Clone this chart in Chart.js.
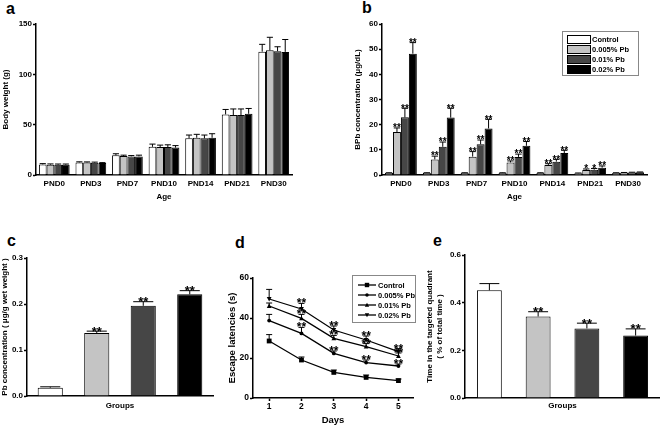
<!DOCTYPE html>
<html>
<head>
<meta charset="utf-8">
<script src="https://cdn.jsdelivr.net/npm/chart.js@4.4.1/dist/chart.umd.min.js"></script>
<style>
  body { margin: 0; background: #fff; width: 660px; height: 426px; position: relative; overflow: hidden; }
  .box { position: absolute; }
  .lab { position: absolute; font: bold 16px "Liberation Sans", Arial, sans-serif; line-height: 16px; color: #000; }
</style>
</head>
<body>
<div class="lab" style="left:6px;top:1px">a</div>
<div class="lab" style="left:362px;top:0px">b</div>
<div class="lab" style="left:7px;top:233px">c</div>
<div class="lab" style="left:235px;top:235px">d</div>
<div class="lab" style="left:433px;top:233px">e</div>

<div class="box" style="left:0px;top:0px;width:300px;height:205px"><canvas id="chartA"></canvas></div>
<div class="box" style="left:330px;top:0px;width:330px;height:205px"><canvas id="chartB"></canvas></div>
<div class="box" style="left:0px;top:215px;width:215px;height:200px"><canvas id="chartC"></canvas></div>
<div class="box" style="left:220px;top:215px;width:200px;height:216px"><canvas id="chartD"></canvas></div>
<div class="box" style="left:422px;top:215px;width:238px;height:200px"><canvas id="chartE"></canvas></div>

<script>
const ages = ['PND0', 'PND3', 'PND7', 'PND10', 'PND14', 'PND21', 'PND30'];
const groups = ['Control', '0.005% Pb', '0.01% Pb', '0.02% Pb'];
const fills = ['#ffffff', '#c4c4c4', '#464646', '#000000'];

// a - body weight (g)
const bwControl = [10.5, 12.5, 19.5, 28.0, 36.4, 60.2, 122.5];
const bwPb005   = [10.3, 12.4, 18.8, 27.8, 37.0, 59.6, 123.8];
const bwPb01    = [10.2, 12.2, 18.5, 27.8, 36.4, 59.6, 123.0];
const bwPb02    = [10.2, 11.8, 18.5, 27.2, 37.0, 60.8, 122.3];
const bwControlErr = [0.8, 0.6, 1.6, 2.7, 3.3, 4.9, 7.3];
const bwPb005Err   = [0.7, 0.6, 0.9, 1.9, 3.4, 6.0, 13.0];
const bwPb01Err    = [0.7, 0.6, 0.8, 2.2, 3.3, 6.0, 4.4];
const bwPb02Err    = [0.7, 0.5, 1.2, 2.0, 4.0, 5.3, 12.3];

// b - BPb concentration (ug/dL)
const bpbControl = [0.8, 0.8, 0.8, 0.8, 0.8, 0.7, 0.8];
const bpbPb005   = [17.1, 6.2, 7.3, 5.0, 4.0, 2.0, 0.9];
const bpbPb01    = [22.9, 11.2, 12.2, 7.2, 5.3, 2.1, 1.0];
const bpbPb02    = [48.2, 22.8, 18.5, 11.6, 8.7, 2.9, 1.1];
const bpbControlErr = [0.1, 0.1, 0.1, 0.1, 0.1, 0.1, 0.1];
const bpbPb005Err   = [1.6, 1.3, 2.0, 0.6, 0.5, 0.4, 0.1];
const bpbPb01Err    = [3.6, 1.9, 1.7, 1.1, 0.9, 0.5, 0.1];
const bpbPb02Err    = [4.4, 3.7, 3.6, 1.7, 1.1, 0.7, 0.1];
const bpbPb005Sig = ['**', '**', '**', '**', '**', '*', ''];
const bpbPb01Sig  = ['**', '**', '**', '**', '**', '*', ''];
const bpbPb02Sig  = ['**', '**', '**', '**', '**', '**', ''];

// c - tissue Pb (ug/g wet weight)
const tissuePb = [0.018, 0.137, 0.196, 0.221];
const tissuePbErr = [0.002, 0.004, 0.009, 0.008];
const tissuePbSig = ['', '**', '**', '**'];

// d - escape latencies (s)
const days = [1, 2, 3, 4, 5];
const latControl = [28.5, 19.0, 12.8, 10.3, 8.7];
const latPb005   = [38.7, 32.3, 22.3, 17.7, 16.0];
const latPb01    = [46.0, 39.8, 29.8, 25.7, 21.0];
const latPb02    = [49.5, 44.5, 34.0, 29.0, 23.2];
const latControlErr = [3.2, 1.5, 1.2, 1.2, 0.8];
const latPb005Err   = [3.1, 3.0, 1.2, 1.3, 1.0];
const latPb01Err    = [1.5, 2.0, 1.5, 1.5, 1.5];
const latPb02Err    = [4.8, 2.8, 2.0, 2.0, 1.5];
const latSig = ['', '**', '**', '**', '**'];

// e - time in target quadrant
const quadTime = [0.452, 0.342, 0.292, 0.262];
const quadTimeErr = [0.028, 0.020, 0.022, 0.028];
const quadTimeSig = ['', '**', '**', '**'];

Chart.defaults.font.family = '"Liberation Sans", Arial, sans-serif';
Chart.defaults.font.weight = 'bold';
Chart.defaults.color = '#000';
Chart.defaults.animation = false;
Chart.defaults.maintainAspectRatio = false;
Chart.defaults.plugins.legend.display = false;
Chart.defaults.plugins.tooltip.enabled = false;

// error bars + significance stars, drawn from each dataset's err / sig arrays
const errorBars = {
  id: 'errorBars',
  afterDatasetsDraw(chart, args, opts) {
    const ctx = chart.ctx, ys = chart.scales.y;
    const size = opts.starSize || 11;
    chart.data.datasets.forEach((ds, di) => {
      if (!ds.err) return;
      chart.getDatasetMeta(di).data.forEach((el, i) => {
        const raw = ds.data[i];
        const v = typeof raw === 'object' ? raw.y : raw;
        const top = ys.getPixelForValue(v + ds.err[i]);
        const cap = opts.cap || el.width * 0.4;
        ctx.save();
        ctx.strokeStyle = '#000';
        ctx.lineWidth = 1;
        ctx.beginPath();
        ctx.moveTo(el.x, el.y);
        ctx.lineTo(el.x, top);
        ctx.moveTo(el.x - cap, top);
        ctx.lineTo(el.x + cap, top);
        ctx.stroke();
        if (ds.sig && ds.sig[i]) {
          ctx.fillStyle = '#000';
          ctx.font = 'bold ' + size + 'px "Liberation Sans", Arial, sans-serif';
          ctx.textAlign = 'center';
          ctx.textBaseline = 'alphabetic';
          ctx.fillText(ds.sig[i], el.x, top - 1 + size * 0.42);
        }
        ctx.restore();
      });
    });
  }
};

function marker(ctx, style, x, y, r) {
  ctx.beginPath();
  if (style === 'rect') ctx.rect(x - r, y - r, 2 * r, 2 * r);
  else if (style === 'circle') ctx.arc(x, y, r * 0.8, 0, Math.PI * 2);
  else if (style === 'up') { ctx.moveTo(x, y - r); ctx.lineTo(x + r, y + r * 0.8); ctx.lineTo(x - r, y + r * 0.8); }
  else { ctx.moveTo(x, y + r); ctx.lineTo(x + r, y - r * 0.8); ctx.lineTo(x - r, y - r * 0.8); }
  ctx.closePath();
  ctx.fill();
}

// boxed legend placed inside the plot like the original
const boxLegend = {
  id: 'boxLegend',
  afterDraw(chart, args, o) {
    if (!o.box) return;
    const ctx = chart.ctx;
    ctx.save();
    ctx.strokeStyle = '#888';
    ctx.lineWidth = 1;
    ctx.strokeRect(o.box[0] + 0.5, o.box[1] + 0.5, o.box[2], o.box[3]);
    ctx.font = 'bold ' + o.font + 'px "Liberation Sans", Arial, sans-serif';
    ctx.textBaseline = 'middle';
    ctx.fillStyle = '#000';
    chart.data.datasets.forEach((ds, i) => {
      const cy = o.row0 + i * o.step;
      if (o.kind === 'bar') {
        ctx.fillStyle = ds.backgroundColor;
        ctx.fillRect(o.swX, cy - o.swH / 2, o.swW, o.swH);
        ctx.strokeStyle = '#000';
        ctx.strokeRect(o.swX + 0.5, cy - o.swH / 2 + 0.5, o.swW, o.swH);
      } else {
        ctx.strokeStyle = '#000';
        ctx.lineWidth = 1.3;
        ctx.beginPath();
        ctx.moveTo(o.swX, cy);
        ctx.lineTo(o.swX + o.swW, cy);
        ctx.stroke();
        ctx.fillStyle = '#000';
        marker(ctx, ds.marker, o.swX + o.swW / 2, cy, 2.2);
      }
      ctx.fillStyle = '#000';
      ctx.fillText(ds.label, o.textX, cy + 0.5);
    });
    ctx.restore();
  }
};

// marker drawing for the line chart points
const lineMarkers = {
  id: 'lineMarkers',
  afterDatasetsDraw(chart) {
    const ctx = chart.ctx;
    chart.data.datasets.forEach((ds, di) => {
      if (!ds.marker) return;
      ctx.save();
      ctx.fillStyle = '#000';
      chart.getDatasetMeta(di).data.forEach(el => marker(ctx, ds.marker, el.x, el.y, 2.4));
      ctx.restore();
    });
  }
};

function yAxis(max, step, dec, title, width, titlePad, tickSize, titleSize) {
  return {
    min: 0, max: max,
    afterFit: s => { s.width = width; },
    border: { color: '#000', width: 1.5 },
    grid: { drawOnChartArea: false, tickLength: 3, tickColor: '#000', tickWidth: 1.5 },
    ticks: { stepSize: step, padding: 1, font: { size: tickSize, weight: 'bold' }, callback: v => v.toFixed(dec) },
    title: { display: true, text: title, font: { size: titleSize, weight: 'bold' }, padding: { top: titlePad, bottom: 0 } }
  };
}

function xCat(height, title, showTicks, titlePad) {
  return {
    afterFit: s => { s.height = height; },
    border: { color: '#000', width: 1.5 },
    grid: { display: false, drawTicks: false },
    ticks: { display: showTicks, padding: 4, autoSkip: false, maxRotation: 0, font: { size: 8, weight: 'bold' } },
    title: { display: true, text: title, font: { size: 8, weight: 'bold' }, padding: { top: 0, bottom: titlePad } }
  };
}

function barSet(label, color, data, err, sig) {
  return { label: label, backgroundColor: color, borderColor: '#000', borderWidth: 1,
           data: data, err: err, sig: sig, categoryPercentage: 0.84, barPercentage: 1 };
}

// a
new Chart(document.getElementById('chartA'), {
  type: 'bar',
  data: {
    labels: ages,
    datasets: [
      barSet(groups[0], fills[0], bwControl, bwControlErr),
      barSet(groups[1], fills[1], bwPb005, bwPb005Err),
      barSet(groups[2], fills[2], bwPb01, bwPb01Err),
      barSet(groups[3], fills[3], bwPb02, bwPb02Err)
    ]
  },
  options: {
    layout: { padding: { top: 24, right: 8, left: 0, bottom: 0 } },
    scales: {
      x: xCat(30, 'Age', true, 3),
      y: yAxis(150, 50, 0, 'Body weight (g)', 36, 1, 8, 8)
    },
    plugins: { errorBars: { starSize: 10 } }
  },
  plugins: [errorBars]
});

// b
new Chart(document.getElementById('chartB'), {
  type: 'bar',
  data: {
    labels: ages,
    datasets: [
      barSet(groups[0], fills[0], bpbControl, bpbControlErr),
      barSet(groups[1], fills[1], bpbPb005, bpbPb005Err, bpbPb005Sig),
      barSet(groups[2], fills[2], bpbPb01, bpbPb01Err, bpbPb01Sig),
      barSet(groups[3], fills[3], bpbPb02, bpbPb02Err, bpbPb02Sig)
    ]
  },
  options: {
    layout: { padding: { top: 24, right: 13, left: 0, bottom: 0 } },
    scales: {
      x: xCat(30, 'Age', true, 3),
      y: yAxis(60, 10, 0, 'BPb concentration (μg/dL)', 52, 23, 8, 8)
    },
    plugins: {
      errorBars: { starSize: 10 },
      boxLegend: { kind: 'bar', box: [232, 31, 76, 44], row0: 39, step: 10, swX: 237, swW: 23, swH: 8, textX: 262, font: 7.5 }
    }
  },
  plugins: [errorBars, boxLegend]
});

// c
new Chart(document.getElementById('chartC'), {
  type: 'bar',
  data: {
    labels: groups,
    datasets: [{ data: tissuePb, err: tissuePbErr, sig: tissuePbSig, backgroundColor: fills,
                 borderColor: '#000', borderWidth: 1, categoryPercentage: 1, barPercentage: 0.54 }]
  },
  options: {
    layout: { padding: { top: 43, right: 2, left: 0, bottom: 0 } },
    scales: {
      x: xCat(19, 'Groups', false, 4),
      y: yAxis(0.3, 0.1, 1, 'Pb concentration ( μg/g wet weight )', 27, 0, 8, 8)
    },
    plugins: { errorBars: { starSize: 13 } }
  },
  plugins: [errorBars]
});

// d
function lineSet(label, values, err, sig, mk) {
  return { label: label, data: days.map((d, i) => ({ x: d, y: values[i] })), err: err, sig: sig, marker: mk,
           borderColor: '#000', borderWidth: 1.3, pointRadius: 0, tension: 0 };
}
new Chart(document.getElementById('chartD'), {
  type: 'line',
  data: {
    datasets: [
      lineSet(groups[0], latControl, latControlErr, null, 'rect'),
      lineSet(groups[1], latPb005, latPb005Err, latSig, 'circle'),
      lineSet(groups[2], latPb01, latPb01Err, latSig, 'up'),
      lineSet(groups[3], latPb02, latPb02Err, latSig, 'down')
    ]
  },
  options: {
    layout: { padding: { top: 63, right: 7, left: 0, bottom: 0 } },
    scales: {
      x: {
        type: 'linear', min: 0.5, max: 5.45,
        afterBuildTicks: s => { s.ticks = days.map(v => ({ value: v })); },
        afterFit: s => { s.height = 33; },
        border: { color: '#000', width: 1.5 },
        grid: { drawOnChartArea: false, tickLength: 3, tickColor: '#000', tickWidth: 1.5 },
        ticks: { padding: 1, font: { size: 8.5, weight: 'bold' } },
        title: { display: true, text: 'Days', font: { size: 9.5, weight: 'bold' }, padding: { top: 0, bottom: 4.5 } }
      },
      y: yAxis(60, 20, 0, 'Escape latencies (s)', 33, 7, 8.5, 9.5)
    },
    plugins: {
      errorBars: { starSize: 12, cap: 3 },
      boxLegend: { kind: 'line', box: [132, 60, 63, 47], row0: 70, step: 10, swX: 138, swW: 18, textX: 158, font: 7.5 }
    }
  },
  plugins: [errorBars, lineMarkers, boxLegend]
});

// e
new Chart(document.getElementById('chartE'), {
  type: 'bar',
  data: {
    labels: groups,
    datasets: [{ data: quadTime, err: quadTimeErr, sig: quadTimeSig, backgroundColor: fills,
                 borderColor: '#000', borderWidth: 1, categoryPercentage: 1, barPercentage: 0.51 }]
  },
  options: {
    layout: { padding: { top: 40, right: 0, left: 0, bottom: 0 } },
    scales: {
      x: xCat(17, 'Groups', false, 4),
      y: yAxis(0.6, 0.2, 1, ['Time in the targeted quadrant', '( % of total time )'], 43, 3, 8, 8)
    },
    plugins: { errorBars: { starSize: 13 } }
  },
  plugins: [errorBars]
});
</script>
</body>
</html>
